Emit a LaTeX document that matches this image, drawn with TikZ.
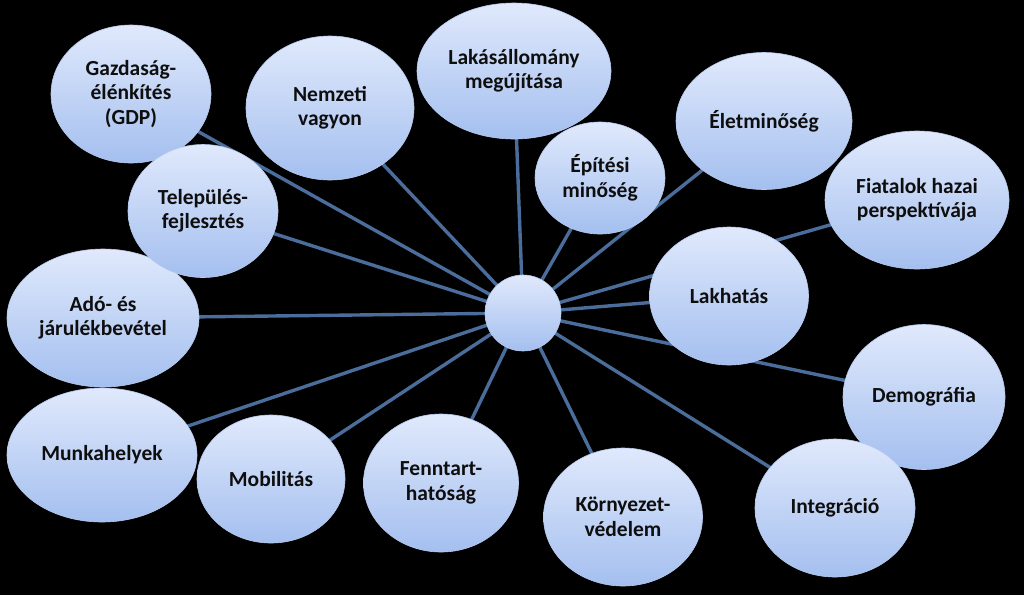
\documentclass[tikz,border=0pt]{standalone}
\usepackage{fontspec}
\setmainfont{Carlito}
\usetikzlibrary{shapes.geometric}
\pgfdeclarelayer{bg}
\pgfdeclarelayer{edges}
\pgfsetlayers{bg,edges,main}
\definecolor{linkc}{HTML}{4A6D9B}
\definecolor{topc}{HTML}{E0E9FC}
\definecolor{midc}{HTML}{CFDCF8}
\definecolor{botc}{HTML}{A4BFEF}
\definecolor{rimc}{HTML}{B9CBEE}
\definecolor{txtc}{HTML}{0E0E0E}
\tikzset{
  bubble/.style={ellipse, inner sep=0pt, top color=topc, middle color=midc, bottom color=botc,
    draw=rimc, line width=0.6pt, align=center, text=txtc,
    font=\fontsize{21.5}{24.5}\selectfont\bfseries},
  link/.style={draw=linkc, line width=3.4pt}
}
\begin{document}
\begin{tikzpicture}[x=1pt,y=-1pt]
\begin{pgfonlayer}{bg}
\fill[black] (0,0) rectangle (1024,595);
\end{pgfonlayer}
\useasboundingbox (0,0) rectangle (1024,595);
\node[bubble, minimum width=160pt, minimum height=138pt] (gdp) at (131,94) {Gazdaság-\\élénkítés\\(GDP)};
\node[bubble, minimum width=192pt, minimum height=138pt] (ado) at (103,318) {Adó- és\\járulékbevétel};
\node[bubble, minimum width=150pt, minimum height=133pt] (tel) at (203,211) {Település-\\fejlesztés};
\node[bubble, minimum width=168pt, minimum height=144pt] (nem) at (330,108) {Nemzeti\\vagyon};
\node[bubble, minimum width=194pt, minimum height=136pt] (lak) at (514,71) {Lakásállomány\\megújítása};
\node[bubble, minimum width=130pt, minimum height=112pt] (epi) at (600,178) {Építési\\minőség};
\node[bubble, minimum width=176pt, minimum height=137pt] (ele) at (764,121) {Életminőség};
\node[bubble, minimum width=184pt, minimum height=138pt] (fia) at (917,200) {Fiatalok hazai\\perspektívája};
\node[bubble, minimum width=159pt, minimum height=138pt] (lkh) at (729,296) {Lakhatás};
\node[bubble, minimum width=162pt, minimum height=145pt] (dem) at (924,397) {Demográfia};
\node[bubble, minimum width=160pt, minimum height=138pt] (int) at (835,508) {Integráció};
\node[bubble, minimum width=159pt, minimum height=138pt] (kor) at (623,517) {Környezet-\\védelem};
\node[bubble, minimum width=155pt, minimum height=138pt] (fen) at (441,483) {Fenntart-\\hatóság};
\node[bubble, minimum width=190pt, minimum height=134pt] (mun) at (102,455) {Munkahelyek};
\node[bubble, minimum width=148pt, minimum height=128pt] (mob) at (271,479) {Mobilitás};
\node[bubble, circle, minimum size=76pt] (c) at (523,313) {};
\begin{pgfonlayer}{edges}
\foreach \n in {gdp,ado,tel,nem,lak,epi,ele,fia,lkh,dem,int,kor,fen,mun,mob}
  \draw[link] (c.center) -- (\n.center);
\end{pgfonlayer}
\end{tikzpicture}
\end{document}
